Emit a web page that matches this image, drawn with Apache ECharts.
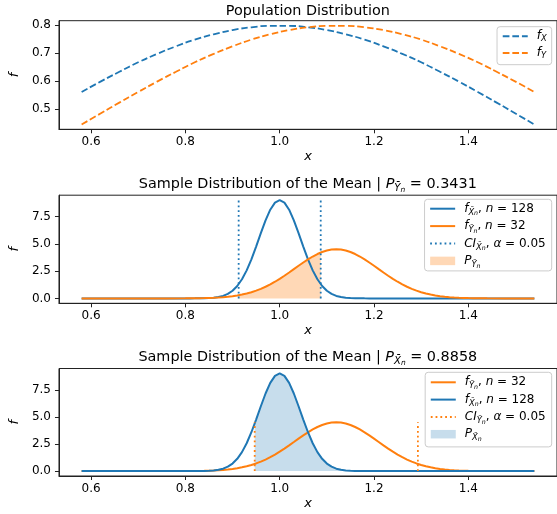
<!DOCTYPE html>
<html>
<head>
<meta charset="utf-8">
<script src="https://cdn.jsdelivr.net/npm/echarts@6/dist/echarts.min.js"></script>
<style>
  html, body { margin: 0; padding: 0; background: #fff; }
  #chart { width: 557px; height: 514px; }
</style>
</head>
<body>
<div id="chart"></div>
<script>
// population densities
const popX = [0.58, 0.62, 0.66, 0.70, 0.74, 0.78, 0.82, 0.86, 0.90, 0.94, 0.98, 1.02, 1.06,
  1.10, 1.14, 1.18, 1.22, 1.26, 1.30, 1.34, 1.38, 1.42, 1.46, 1.50, 1.54];
const fX = [0.561, 0.598, 0.633, 0.667, 0.697, 0.724, 0.748, 0.767, 0.782, 0.792, 0.797, 0.797, 0.792,
  0.782, 0.767, 0.748, 0.724, 0.697, 0.667, 0.633, 0.598, 0.561, 0.523, 0.484, 0.445];
const fY = [0.445, 0.484, 0.523, 0.561, 0.598, 0.633, 0.667, 0.697, 0.724, 0.748, 0.767, 0.782, 0.792,
  0.797, 0.797, 0.792, 0.782, 0.767, 0.748, 0.724, 0.697, 0.667, 0.633, 0.598, 0.561];

// sample distributions of the mean (middle and bottom panels)
const sampleX = [0.58, 0.70, 0.76,
  0.80, 0.81, 0.82, 0.83, 0.84, 0.85, 0.86, 0.87, 0.88, 0.89,
  0.90, 0.91, 0.92, 0.93, 0.94, 0.95, 0.96, 0.97, 0.98, 0.99,
  1.00, 1.01, 1.02, 1.03, 1.04, 1.05, 1.06, 1.07, 1.08, 1.09,
  1.10, 1.11, 1.12, 1.13, 1.14, 1.15, 1.16, 1.17, 1.18, 1.19,
  1.20, 1.21, 1.22, 1.23, 1.24, 1.25, 1.26, 1.27, 1.28, 1.29,
  1.30, 1.31, 1.32, 1.33, 1.34, 1.35, 1.36, 1.37, 1.38, 1.39,
  1.40, 1.41, 1.42, 1.43, 1.44, 1.48, 1.54];
const fXbar = [0, 0, 0,
  0.000, 0.001, 0.002, 0.006, 0.013, 0.028, 0.060, 0.119, 0.226, 0.408,
  0.698, 1.135, 1.754, 2.575, 3.592, 4.760, 5.993, 7.169, 8.148, 8.799,
  9.027, 8.799, 8.148, 7.169, 5.993, 4.760, 3.592, 2.575, 1.754, 1.135,
  0.698, 0.408, 0.226, 0.119, 0.060, 0.028, 0.013, 0.006, 0.002, 0.001,
  0, 0, 0, 0, 0, 0, 0, 0, 0, 0,
  0, 0, 0, 0, 0, 0, 0, 0, 0, 0,
  0, 0, 0, 0, 0, 0, 0];
const fYbar = [0, 0.000, 0.001,
  0.006, 0.010, 0.014, 0.021, 0.030, 0.043, 0.060, 0.083, 0.113, 0.153,
  0.204, 0.268, 0.349, 0.448, 0.568, 0.710, 0.877, 1.069, 1.287, 1.530,
  1.796, 2.081, 2.380, 2.688, 2.997, 3.298, 3.585, 3.846, 4.074, 4.261,
  4.399, 4.485, 4.514, 4.485, 4.399, 4.261, 4.074, 3.846, 3.585, 3.298,
  2.997, 2.688, 2.380, 2.081, 1.796, 1.530, 1.287, 1.069, 0.877, 0.710,
  0.568, 0.448, 0.349, 0.268, 0.204, 0.153, 0.113, 0.083, 0.060, 0.043,
  0.030, 0.021, 0.014, 0.010, 0.006, 0.001, 0];

// confidence interval bounds and curve heights there
const ciXbar = [0.913, 1.087];
const ciYbar = [0.947, 1.293];
const fYbarAtCiX = [0.294, 4.203];
const fXbarAtCiY = [4.374, 0.000];
const ciXbarTop = 9.027;
const ciYbarTop = 4.514;
const pYbar = '0.3431';
const pXbar = '0.8858';

const xTicks = [0.6, 0.8, 1.0, 1.2, 1.4];
const popTicks = [0.5, 0.6, 0.7, 0.8];
const sampleTicks = [0, 2.5, 5, 7.5];

const BLUE = '#1f77b4';
const ORANGE = '#ff7f0e';
const FONT = 'DejaVu Sans';

const zip = (xs, ys) => xs.map((x, i) => [x, ys[i]]);
const shade = (bounds, edge, ys) => [
  [bounds[0], edge[0]],
  ...zip(sampleX, ys).filter((p) => p[0] > bounds[0] && p[0] < bounds[1]),
  [bounds[1], edge[1]],
];

const chart = echarts.init(document.getElementById('chart'));

const gridLeft = 57;
const gridWidth = 501.6;
const grids = [
  { left: gridLeft, width: gridWidth, top: 20.7, height: 108.6 },
  { left: gridLeft, width: gridWidth, top: 195.2, height: 108.1 },
  { left: gridLeft, width: gridWidth, top: 368.5, height: 107.5 },
].map((g) => ({ ...g, show: true, borderColor: '#222', borderWidth: 1, backgroundColor: 'transparent' }));

const tickFont = { fontFamily: FONT, fontSize: 12, color: '#000' };
const nameFont = { fontFamily: FONT, fontSize: 13, color: '#000', fontStyle: 'italic' };
const makeX = (gridIndex) => ({
  type: 'value', gridIndex, min: 0.532, max: 1.588,
  name: 'x', nameLocation: 'middle', nameGap: 21,
  nameTextStyle: nameFont,
  axisLine: { show: true, onZero: false, lineStyle: { color: '#222', width: 1 } },
  axisTick: { show: true, length: 4, customValues: xTicks, lineStyle: { color: '#222' } },
  axisLabel: { customValues: xTicks, margin: 7, formatter: (v) => v.toFixed(1), ...tickFont },
  splitLine: { show: false },
});
const makeY = (gridIndex, min, max, ticks) => ({
  type: 'value', gridIndex, min, max,
  name: 'f', nameLocation: 'middle', nameGap: 30,
  nameTextStyle: nameFont,
  axisLine: { show: true, onZero: false, lineStyle: { color: '#222', width: 1 } },
  axisTick: { show: true, length: 4, customValues: ticks, lineStyle: { color: '#222' } },
  axisLabel: { customValues: ticks, margin: 8, formatter: (v) => v.toFixed(1), ...tickFont },
  splitLine: { show: false },
});

// rich text pieces for the mathtext-like labels
const mathRich = (size, lh) => ({
  m: { fontFamily: FONT, fontSize: size, lineHeight: lh, color: '#000' },
  i: { fontFamily: FONT, fontSize: size, lineHeight: lh, color: '#000', fontStyle: 'italic' },
  s: { fontFamily: FONT, fontSize: size * 0.7, lineHeight: lh - 6.1, verticalAlign: 'bottom', color: '#000', fontStyle: 'italic' },
  ss: { fontFamily: FONT, fontSize: size * 0.52, lineHeight: lh - 12.3, verticalAlign: 'bottom', color: '#000', fontStyle: 'italic' },
  h: { width: 4, lineHeight: lh },
});

const legendLabels = {
  fX: '{h| }{i|f}{s|X}',
  fY: '{h| }{i|f}{s|Y}',
  xbarM: '{h| }{i|f}{s|X\u0304}{ss|n}{m|, }{i|n}{m| = 128}',
  ybarM: '{h| }{i|f}{s|Y\u0304}{ss|n}{m|, }{i|n}{m| = 32}',
  ciM: '{h| }{i|CI}{s|X\u0304}{ss|n}{m|, }{i|\u03b1}{m| = 0.05}',
  pM: '{h| }{i|P}{s|Y\u0304}{ss|n}',
  ybarB: '{h| }{i|f}{s|Y\u0304}{ss|n}{m|, }{i|n}{m| = 32}',
  xbarB: '{h| }{i|f}{s|X\u0304}{ss|n}{m|, }{i|n}{m| = 128}',
  ciB: '{h| }{i|CI}{s|Y\u0304}{ss|n}{m|, }{i|\u03b1}{m| = 0.05}',
  pB: '{h| }{i|P}{s|X\u0304}{ss|n}',
};

// line entries: hide the symbol dot, keep the stroke
const lineItem = (name) => ({ name, itemStyle: { opacity: 0 } });
const rectItem = (name, color, opacity) => ({ name, icon: 'rect', itemStyle: { color, opacity } });

const makeLegend = (data, top, lh, gap, padding) => ({
  orient: 'vertical', right: 5.3, top, itemWidth: 25, itemHeight: 8.5, itemGap: gap,
  padding, borderColor: '#cccccc', borderWidth: 1, borderRadius: 3, backgroundColor: '#fff',
  selectedMode: false, data,
  formatter: (name) => legendLabels[name],
  textStyle: { fontFamily: FONT, fontSize: 12, color: '#000', rich: mathRich(12, lh) },
});

const titleStyle = { fontFamily: FONT, fontSize: 14.4, fontWeight: 'normal', color: '#000', lineHeight: 18, rich: mathRich(14.4, 18) };
const makeTitle = (text, top) => ({ text, left: gridLeft + gridWidth / 2, top, textAlign: 'center', padding: 0, textStyle: titleStyle });

const curve = (name, xi, data, color, width, type) => ({
  name, type: 'line', xAxisIndex: xi, yAxisIndex: xi, data, symbol: 'none', silent: true,
  lineStyle: { color, width, type }, itemStyle: { color },
});
const area = (name, xi, data, color, opacity) => ({
  name, type: 'line', xAxisIndex: xi, yAxisIndex: xi, data, symbol: 'none', silent: true,
  lineStyle: { width: 0, color }, itemStyle: { color }, areaStyle: { color, opacity },
});
const DASHED = [6.7, 2.9];
const DOTTED = [1.8, 3];

const option = {
  animation: false,
  backgroundColor: '#fff',
  title: [
    makeTitle('{m|Population Distribution}', 2.7),
    makeTitle(`{m|Sample Distribution of the Mean | }{i|P}{s|Y\u0304}{ss|n}{m| = ${pYbar}}`, 175.3),
    makeTitle(`{m|Sample Distribution of the Mean | }{i|P}{s|X\u0304}{ss|n}{m| = ${pXbar}}`, 348.7),
  ],
  legend: [
    makeLegend([lineItem('fX'), lineItem('fY')], 26.7, 14, 3.7, [3.6, 5, 4.7, 4.7]),
    makeLegend([lineItem('xbarM'), lineItem('ybarM'), lineItem('ciM'), rectItem('pM', ORANGE, 0.3)], 199.3, 16, 3.4, [3.4, 6, 2, 4.6]),
    makeLegend([lineItem('ybarB'), lineItem('xbarB'), lineItem('ciB'), rectItem('pB', BLUE, 0.25)], 372.3, 16, 3.3, [4, 6, 4.7, 4.6]),
  ],
  grid: grids,
  xAxis: [makeX(0), makeX(1), makeX(2)],
  yAxis: [
    makeY(0, 0.4277, 0.8155, popTicks),
    makeY(1, -0.451, 9.478, sampleTicks),
    makeY(2, -0.451, 9.478, sampleTicks),
  ],
  series: [
    { ...curve('fX', 0, zip(popX, fX), BLUE, 1.8, DASHED), smooth: true },
    { ...curve('fY', 0, zip(popX, fY), ORANGE, 1.8, DASHED), smooth: true },

    curve('xbarM', 1, zip(sampleX, fXbar), BLUE, 2, 'solid'),
    curve('ybarM', 1, zip(sampleX, fYbar), ORANGE, 2, 'solid'),
    curve('ciM', 1, [[ciXbar[0], 0], [ciXbar[0], ciXbarTop]], BLUE, 1.8, DOTTED),
    curve('ciM', 1, [[ciXbar[1], 0], [ciXbar[1], ciXbarTop]], BLUE, 1.8, DOTTED),
    area('pM', 1, shade(ciXbar, fYbarAtCiX, fYbar), ORANGE, 0.3),

    curve('ybarB', 2, zip(sampleX, fYbar), ORANGE, 2, 'solid'),
    curve('xbarB', 2, zip(sampleX, fXbar), BLUE, 2, 'solid'),
    curve('ciB', 2, [[ciYbar[0], 0], [ciYbar[0], ciYbarTop]], ORANGE, 1.8, DOTTED),
    curve('ciB', 2, [[ciYbar[1], 0], [ciYbar[1], ciYbarTop]], ORANGE, 1.8, DOTTED),
    area('pB', 2, shade(ciYbar, fXbarAtCiY, fXbar), BLUE, 0.25),
  ],
};

chart.setOption(option);
</script>
</body>
</html>
